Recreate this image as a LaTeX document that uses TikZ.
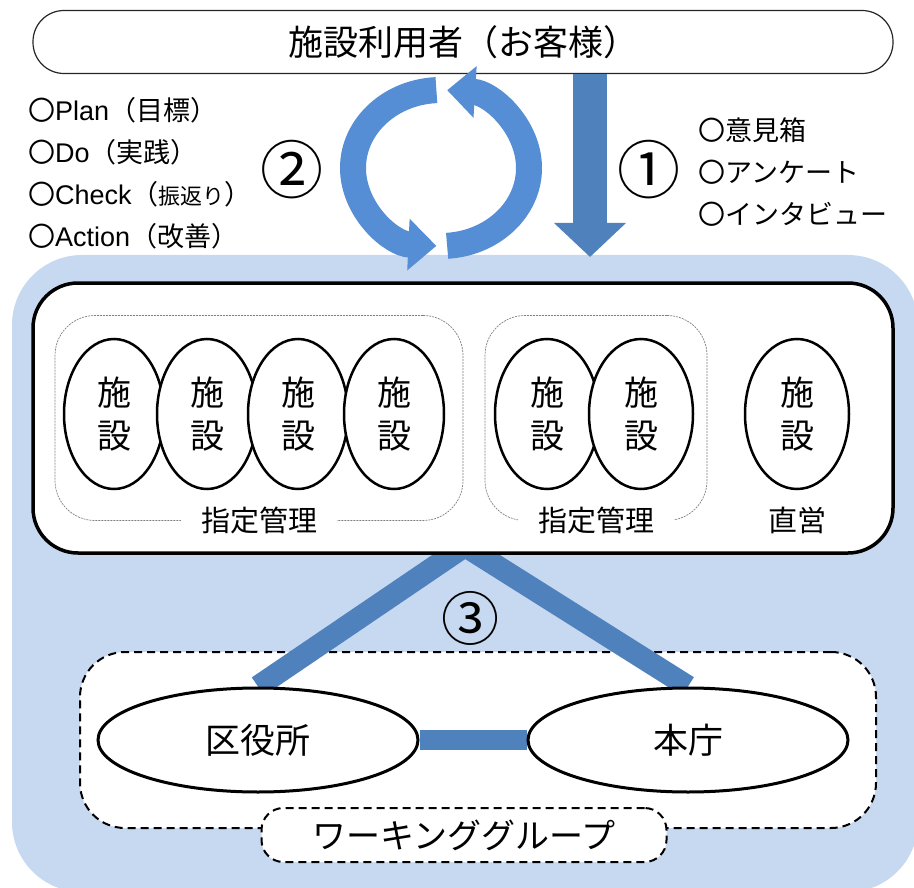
\documentclass[tikz,border=0pt]{standalone}
\usepackage{fontspec}
\setmainfont{Noto Sans CJK JP}
\newfontfamily\latinfont{Liberation Sans}
\usetikzlibrary{arrows.meta,shapes.geometric}
\definecolor{regionblue}{RGB}{198,217,240}
\definecolor{arrowblue}{RGB}{79,129,189}
\definecolor{cycleblue}{RGB}{85,142,213}
\pgfdeclarelayer{back}
\pgfdeclarelayer{mid}
\pgfsetlayers{back,mid,main}
\begin{document}
\begin{tikzpicture}[x=1pt,y=-1pt,
  fac/.style={ellipse, draw, line width=2.5pt, fill=white, minimum width=100pt, minimum height=150pt, inner sep=0pt, align=center, font=\fontsize{34}{43}\selectfont},
  grp/.style={draw=gray, line width=0.7pt, dash pattern=on 2pt off 1pt, rounded corners=40pt},
  grplabel/.style={fill=white, inner xsep=20pt, inner ysep=2pt, font=\fontsize{29}{31}\selectfont},
  office/.style={ellipse, draw, line width=3pt, fill=white, minimum width=320pt, minimum height=104pt, inner sep=0pt, font=\fontsize{35}{38}\selectfont},
  wgdash/.style={draw, line width=2pt, dash pattern=on 8pt off 5pt},
  bigarrow/.style={line width=34pt, arrowblue, -{Triangle[length=34pt,width=70pt]}},
  cyclearrow/.style={line width=26pt, cycleblue, -{Triangle[length=28pt,width=50pt]}},
  listtext/.style={align=left, anchor=west, inner sep=0pt, font=\fontsize{27}{42}\selectfont},
  numtext/.style={inner sep=0pt, font=\fontsize{63}{63}\selectfont},
  link/.style={arrowblue, line width=22pt, line join=miter}
]
\useasboundingbox (0,0) rectangle (914,888);

% light blue region
\begin{pgfonlayer}{back}
\begin{scope}
\clip (0,0) rectangle (914,888);
\fill[regionblue, rounded corners=70pt] (12,255) rectangle (918,892);
\end{scope}
\node[wgdash, fill=white, rounded corners=45pt, minimum width=796pt, minimum height=176pt] (wg) at (478,740) {};
\end{pgfonlayer}

% top bar
\node[draw=black!85, line width=1.2pt, fill=white, rounded corners=31pt, minimum width=860pt, minimum height=63pt, font=\fontsize{35}{38}\selectfont] (user) at (463,42) {施設利用者（お客様）};

% lists
\node[listtext] (pdca) at (28,173) {〇{\latinfont Plan}（目標）\\〇{\latinfont Do}（実践）\\〇{\latinfont Check}（{\fontsize{22}{22}\selectfont 振返り}）\\〇{\latinfont Action}（改善）};
\node[listtext] (voice) at (698,172) {〇意見箱\\〇アンケート\\〇インタビュー};

\node[numtext] (n2) at (292,170) {②};
\node[numtext] (n1) at (649,170) {①};

% cycle arrows
\draw[cyclearrow] (441,168) ++(267:88 and 78) arc[start angle=267, end angle=93, x radius=88, y radius=78];
\draw[cyclearrow] (441,168) ++(86:88 and 78) arc[start angle=86, end angle=-86, x radius=88, y radius=78];

% down arrow
\coordinate (downtop) at (590,74);
\coordinate (downtip) at (590,257);
\draw[bigarrow] (downtop) -- (downtip);

% facility box
\node[draw, line width=3.5pt, fill=white, rounded corners=45pt, minimum width=860pt, minimum height=270pt] (facbox) at (463,418) {};
\node[grp, minimum width=408pt, minimum height=205pt] (g1) at (259,418) {};
\node[grp, minimum width=222pt, minimum height=205pt] (g2) at (596,418) {};
\node[grplabel] (g1l) at (g1.south) {指定管理};
\node[grplabel] (g2l) at (g2.south) {指定管理};
\node[font=\fontsize{29}{31}\selectfont, inner sep=2pt] (direct) at (797,520) {直営};

\node[fac] (f1) at (114,414) {施\\設};
\node[fac] (f2) at (207,414) {施\\設};
\node[fac] (f3) at (298,414) {施\\設};
\node[fac] (f4) at (394,414) {施\\設};
\node[fac, minimum width=104pt] (f5) at (547,414) {施\\設};
\node[fac, minimum width=104pt] (f6) at (641,414) {施\\設};
\node[fac, minimum width=104pt] (f7) at (797,414) {施\\設};

% lower part
\node[office] (kuya) at (258,740) {区役所};
\node[office] (hon) at (688,740) {本庁};
\coordinate (apex) at (465,546);
\begin{pgfonlayer}{mid}
\draw[link] (kuya.north) -- (apex) -- (hon.north);
\draw[arrowblue, line width=20pt] (kuya.east) -- (hon.west);
\end{pgfonlayer}
\node[numtext, font=\fontsize{58}{58}\selectfont] (n3) at (470,618) {③};

\node[wgdash, fill=white, rounded corners=22pt, minimum width=405pt, minimum height=54pt, font=\fontsize{34}{36}\selectfont] (wgl) at (464,835) {ワーキンググループ};
\end{tikzpicture}
\end{document}
